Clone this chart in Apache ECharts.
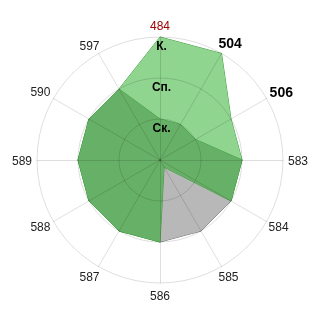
<!DOCTYPE html>
<html><head><meta charset="utf-8">
<script src="https://cdn.jsdelivr.net/npm/echarts@6/dist/echarts.min.js"></script>
<style>html,body{margin:0;padding:0;background:#fff}#c{width:320px;height:320px}</style>
</head><body><div id="c"></div>
<script>
const categories = ['484','504','506','583','584','585','586','587','588','589','590','597'];
const ringLabels = ['', 'Ск.', 'Сп.', 'К.'];
const seriesLight = [3,3,2,2,2,0.2,2,2,2,2,2,2];
const seriesGrey  = [0,0,0,0,2,2,2,0,0,0,0,0];
const seriesDark  = [1,1,1,2,2,0.2,2,2,2,2,2,2];
const boldCats = ['504','506'];
const redCats = ['484'];

// label padding (style only): [top, right, bottom, left]
const namePad = {
  '484': [0,0,12,0], '504': [0,0,32,1], '506': [0,0,19,10], '583': [3,0,0,13],
  '584': [21,0,0,9], '585': [36,0,0,1], '586': [16,0,0,0], '587': [36,3,0,0],
  '588': [21,10,0,0], '589': [3,13,0,0], '590': [0,10,19,0], '597': [0,3,28,0]
};

// radar runs counter-clockwise; reorder so categories go clockwise from the top
const order = [0].concat(categories.map((_, i) => i).slice(1).reverse());
const pick = arr => order.map(i => arr[i]);

const FONT = 'Arial, "Liberation Sans", sans-serif';
const rich = {};
categories.forEach((c, i) => {
  const bold = boldCats.includes(c);
  rich['n' + i] = {
    fontFamily: FONT,
    fontSize: bold ? 14 : 12,
    fontWeight: bold ? 'bold' : 'normal',
    color: redCats.includes(c) ? '#a00000' : (bold ? '#000' : '#222'),
    padding: namePad[c]
  };
});

const chart = echarts.init(document.getElementById('c'));
chart.setOption({
  animation: false,
  radar: {
    z: 5,
    center: [160, 160],
    radius: 123,
    startAngle: 90,
    shape: 'circle',
    splitNumber: 3,
    nameGap: -8,
    indicator: pick(categories).map((c, i) => {
      const o = { name: c, min: 0, max: 3 };
      if (i === 0) {
        o.axisLabel = {
          show: true, margin: 0, align: 'center', verticalAlign: 'top',
          padding: [4, 0, 0, 3],
          fontFamily: FONT, fontSize: 12, fontWeight: 'bold', color: '#000',
          formatter: v => ringLabels[v] || ''
        };
      }
      return o;
    }),
    axisName: {
      fontFamily: FONT, fontSize: 12, color: '#222',
      formatter: (name) => '{n' + categories.indexOf(name) + '|' + name + '}',
      rich: rich
    },
    axisLabel: { show: false },
    axisLine: { lineStyle: { color: 'rgba(0,0,0,0.13)', width: 1 } },
    splitLine: { lineStyle: { color: 'rgba(0,0,0,0.13)', width: 1 } },
    splitArea: { show: false }
  },
  series: [{
    type: 'radar',
    symbol: 'none',
    z: 2,
    data: [
      { value: pick(seriesLight), lineStyle: { color: '#3f9f3f', width: 1 }, areaStyle: { color: '#8fd48f', opacity: 1 } },
      { value: pick(seriesGrey), lineStyle: { color: '#707070', width: 1 }, areaStyle: { color: '#b8b8b8', opacity: 1 } },
      { value: pick(seriesDark), lineStyle: { color: '#3f9f3f', width: 1 }, areaStyle: { color: '#67b067', opacity: 1 } }
    ]
  }]
});
</script></body></html>
